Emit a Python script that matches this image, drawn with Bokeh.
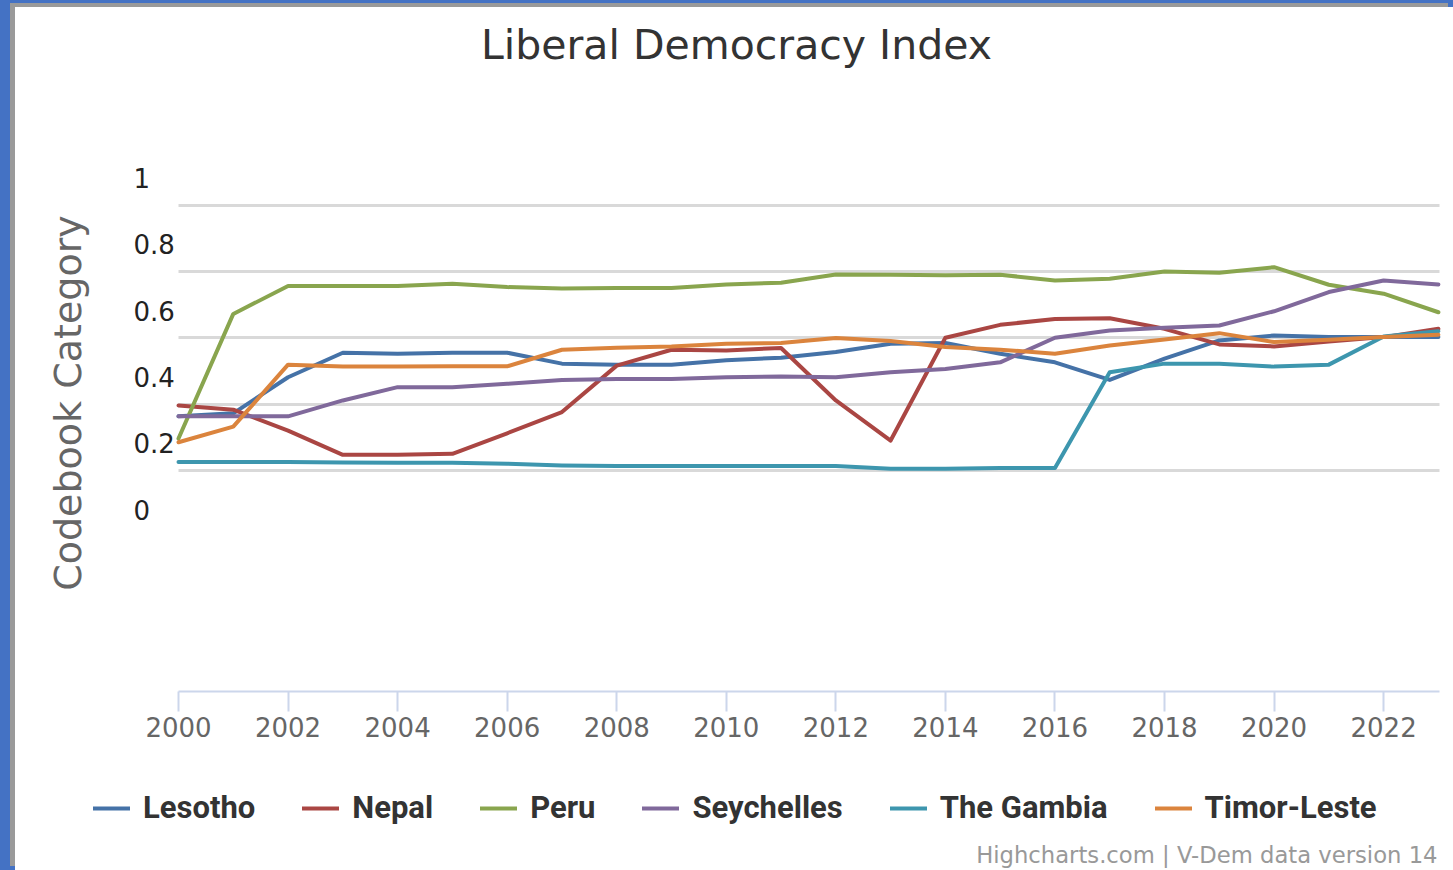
from math import pi

from bokeh.plotting import figure
from bokeh.models import Range1d, FixedTicker, Legend, LegendItem, Label
from bokeh.embed import file_html
from bokeh.resources import INLINE

# ---------------- data ----------------
years = list(range(2000, 2024))

lesotho = [0.281, 0.290, 0.399, 0.473, 0.470, 0.473, 0.473, 0.440, 0.437, 0.437, 0.450, 0.458,
           0.475, 0.500, 0.502, 0.470, 0.444, 0.391, 0.455, 0.510, 0.525, 0.520, 0.520, 0.520]
nepal = [0.314, 0.301, 0.238, 0.165, 0.165, 0.168, 0.230, 0.294, 0.434, 0.482, 0.480, 0.487,
         0.329, 0.208, 0.518, 0.557, 0.575, 0.577, 0.545, 0.498, 0.492, 0.507, 0.520, 0.545]
peru = [0.214, 0.590, 0.674, 0.674, 0.674, 0.681, 0.671, 0.667, 0.668, 0.668, 0.679, 0.684,
        0.709, 0.708, 0.707, 0.708, 0.691, 0.696, 0.718, 0.714, 0.731, 0.678, 0.651, 0.595]
seychelles = [0.281, 0.281, 0.281, 0.329, 0.369, 0.369, 0.379, 0.391, 0.394, 0.394, 0.399, 0.401,
              0.399, 0.414, 0.424, 0.444, 0.518, 0.540, 0.548, 0.555, 0.598, 0.656, 0.691, 0.679]
gambia = [0.143, 0.143, 0.143, 0.142, 0.141, 0.141, 0.138, 0.133, 0.131, 0.131, 0.131, 0.131,
          0.131, 0.123, 0.123, 0.125, 0.125, 0.414, 0.440, 0.440, 0.431, 0.437, 0.522, 0.538]
timor_leste = [0.203, 0.250, 0.437, 0.431, 0.431, 0.432, 0.432, 0.482, 0.488, 0.492, 0.500, 0.502,
               0.517, 0.508, 0.490, 0.482, 0.470, 0.495, 0.513, 0.532, 0.505, 0.512, 0.520, 0.527]

series_names = ["Lesotho", "Nepal", "Peru", "Seychelles", "The Gambia", "Timor-Leste"]
series_values = [lesotho, nepal, peru, seychelles, gambia, timor_leste]
series_colors = ["#4572A7", "#AA4643", "#89A54E", "#80699B", "#3D96AE", "#DB843D"]

y_tick_values = [0, 0.2, 0.4, 0.6, 0.8, 1]
y_tick_labels = ["0", "0.2", "0.4", "0.6", "0.8", "1"]
x_tick_values = list(range(2000, 2023, 2))

title_text = "Liberal Democracy Index"
y_title_text = "Codebook Category"
credits_text = "Highcharts.com | V-Dem data version 14"

# ---------------- layout (canvas starts at page x=15, y=7; frame = whole canvas) ----------------
W, H = 1438, 863
X_START, X_END = 1997.0244, 2023.2756          # year 2000 at page x=178, 2023 at ~1437
Y_START, Y_END = -1.08899, 1.51433              # label "0" at page y=509, "1" at 177.5
X_BOUNDS = (2000, 2023.02)
X_AXIS_AT = -0.549                               # page y=691
GRID_SHIFT = 0.082

p = figure(
    width=W, height=H,
    x_range=Range1d(X_START, X_END), y_range=Range1d(Y_START, Y_END),
    output_backend="svg", toolbar_location=None, y_axis_location=None,
    min_border_left=0, min_border_right=0, min_border_top=0, min_border_bottom=0,
    background_fill_color="white", border_fill_color="white",
    styles={
        "position": "absolute", "left": "15px", "top": "7px",
        "box-shadow": "-5px -4px 0 0 #9a9a9a, -15px -7px 0 0 #4472C4, "
                      "0 -7px 0 0 #4472C4, -15px 0 0 0 #4472C4",
    },
)
p.outline_line_color = None
p.title.visible = False

# horizontal grid lines (a little below each label, as in the reference), limited to the plot width
grid_values = [v - GRID_SHIFT for v in y_tick_values[1:]]
p.xgrid.visible = False
yg = p.ygrid[0]
if "cross_bounds" in yg.properties():
    yg.ticker = FixedTicker(ticks=grid_values)
    yg.cross_bounds = X_BOUNDS
    yg.grid_line_color = "#d9d9d9"
    yg.grid_line_width = 3
else:
    yg.visible = False
    p.segment(x0=X_BOUNDS[0], x1=X_BOUNDS[1], y0=grid_values, y1=grid_values,
              line_color="#d9d9d9", line_width=3, level="underlay")

# x axis, drawn at a fixed place inside the canvas
xa = p.xaxis[0]
xa.fixed_location = X_AXIS_AT
xa.bounds = X_BOUNDS
xa.ticker = FixedTicker(ticks=x_tick_values)
xa.axis_line_color = "#ccd6eb"
xa.axis_line_width = 2
xa.major_tick_line_color = "#ccd6eb"
xa.major_tick_line_width = 2
xa.major_tick_out = 20
xa.major_tick_in = 0
xa.minor_tick_line_color = None
xa.major_label_standoff = 6
xa.major_label_text_font = "DejaVu Sans"
xa.major_label_text_font_size = "26px"
xa.major_label_text_color = "#666666"

# lines
renderers = []
for name, vals, col in zip(series_names, series_values, series_colors):
    r = p.line(years, vals, line_color=col, line_width=4, line_join="round", line_cap="round")
    renderers.append(r)

# y tick labels (left aligned, as in the reference)
for v, t in zip(y_tick_values, y_tick_labels):
    p.add_layout(Label(x=118, x_units="canvas", y=v, y_units="data", text=t,
                       text_align="left", text_baseline="middle",
                       text_font="DejaVu Sans", text_font_size="26px", text_color="#222222"))

# titles
p.add_layout(Label(x=721, y=37, x_units="canvas", y_units="canvas", text=title_text,
                   text_align="center", text_baseline="alphabetic",
                   text_font="DejaVu Sans", text_font_size="41px", text_color="#333333"))
p.add_layout(Label(x=52.5, y=395.5, x_units="canvas", y_units="canvas", text=y_title_text,
                   angle=pi / 2, text_align="center", text_baseline="alphabetic",
                   text_font="DejaVu Sans", text_font_size="38px", text_color="#666666"))
p.add_layout(Label(x=1422, y=847, x_units="canvas", y_units="canvas", text=credits_text,
                   text_align="right", text_baseline="alphabetic",
                   text_font="DejaVu Sans", text_font_size="22.7px", text_color="#999999"))

# legend
legend = Legend(
    items=[LegendItem(label=n, renderers=[r]) for n, r in zip(series_names, renderers)],
    orientation="horizontal", location=(78, 44),
    glyph_width=37, glyph_height=36, label_height=36, label_standoff=13, spacing=47,
    padding=0, margin=0, border_line_color=None, background_fill_alpha=0,
    label_text_font="Roboto", label_text_font_style="bold", label_text_font_size="31px",
    label_text_color="#333333",
)
p.add_layout(legend, "center")

open("out.html", "w").write(file_html(p, INLINE))
